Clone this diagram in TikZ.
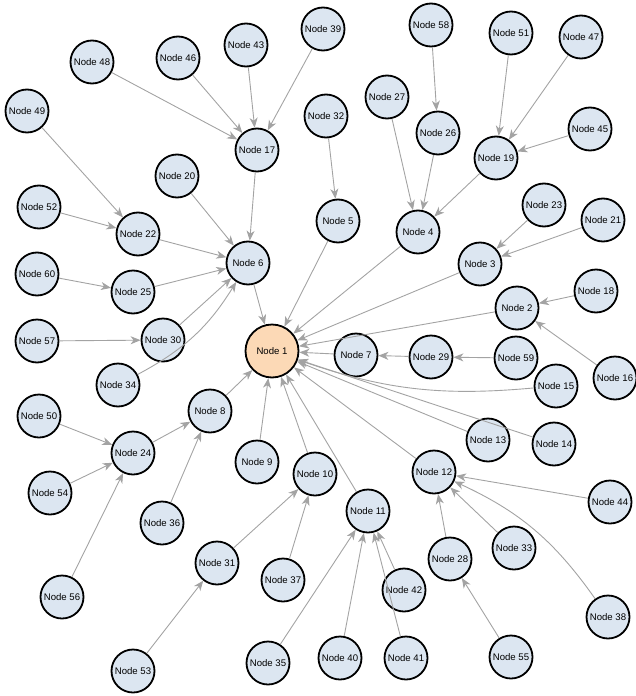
\documentclass[tikz,border=0pt]{standalone}
\usepackage{fontspec}
\setmainfont{Liberation Sans}
\usetikzlibrary{arrows.meta}
\definecolor{nodefill}{HTML}{DCE6F1}
\definecolor{centerfill}{HTML}{FCD9B6}
\definecolor{edgegray}{HTML}{A3A3A3}
\tikzset{
  nd/.style={circle, draw=black, line width=1.8pt, fill=nodefill, minimum size=43pt, inner sep=0pt, font=\fontsize{9.6}{11}\selectfont},
  ndc/.style={nd, fill=centerfill, minimum size=53pt},
  edge/.style={draw=edgegray, line width=0.9pt, -{Stealth[length=10pt,width=8pt,inset=3pt]}}
}
\begin{document}
\begin{tikzpicture}[x=1pt,y=-1pt]
\useasboundingbox (0,0) rectangle (636,696);
\node[ndc] (n1) at (272,351) {Node 1};
\foreach \n/\x/\y in {
2/517/308, 3/480/264, 4/418/232, 5/338/221, 6/248/263, 7/356/355, 8/210/411,
9/257/462, 10/315/474, 11/368/511, 12/434/472, 13/488/440, 14/554/444,
15/556/386, 16/615/378, 17/257/150, 18/596/291, 19/496/158, 20/177/176,
21/603/220, 22/138/234, 23/544/205, 24/133/453, 25/133/292, 26/438/133,
27/387/97, 28/450/559, 29/431/357, 30/163/340, 31/217/563, 32/326/116,
33/514/548, 34/118/385, 35/268/663, 36/162/523, 37/283/580, 38/608/617,
39/323/29, 40/340/658, 41/406/658, 42/404/590, 43/246/45, 44/610/502,
45/590/129, 46/178/58, 47/581/37, 48/92/62, 49/27/111, 50/39/416,
51/511/33, 52/39/207, 53/133/671, 54/50/493, 55/511/657, 56/62/597,
57/37/341, 58/431/25, 59/516/358, 60/37/274}
  \node[nd] (n\n) at (\x,\y) {Node \n};
\foreach \a/\b in {
48/17, 46/17, 43/17, 39/17, 49/22, 52/22, 20/6, 17/6, 22/6, 25/6, 30/6,
60/25, 57/30, 58/26, 27/4, 26/4, 19/4, 51/19, 47/19, 45/19, 32/5,
23/3, 21/3, 18/2, 16/2, 59/29, 29/7,
6/1, 5/1, 4/1, 3/1, 2/1, 7/1, 13/1, 14/1, 12/1, 11/1, 10/1, 9/1, 8/1,
50/24, 54/24, 56/24, 24/8, 36/8, 31/10, 37/10, 53/31,
35/11, 40/11, 41/11, 42/11, 28/12, 33/12, 44/12, 55/28}
  \draw[edge] (n\a) -- (n\b);
\draw[edge] (n15) to[bend left=12] (n1);
\draw[edge] (n38) to[bend right=15] (n12);
\draw[edge] (n34) to[bend right=15] (n6);
\end{tikzpicture}
\end{document}
